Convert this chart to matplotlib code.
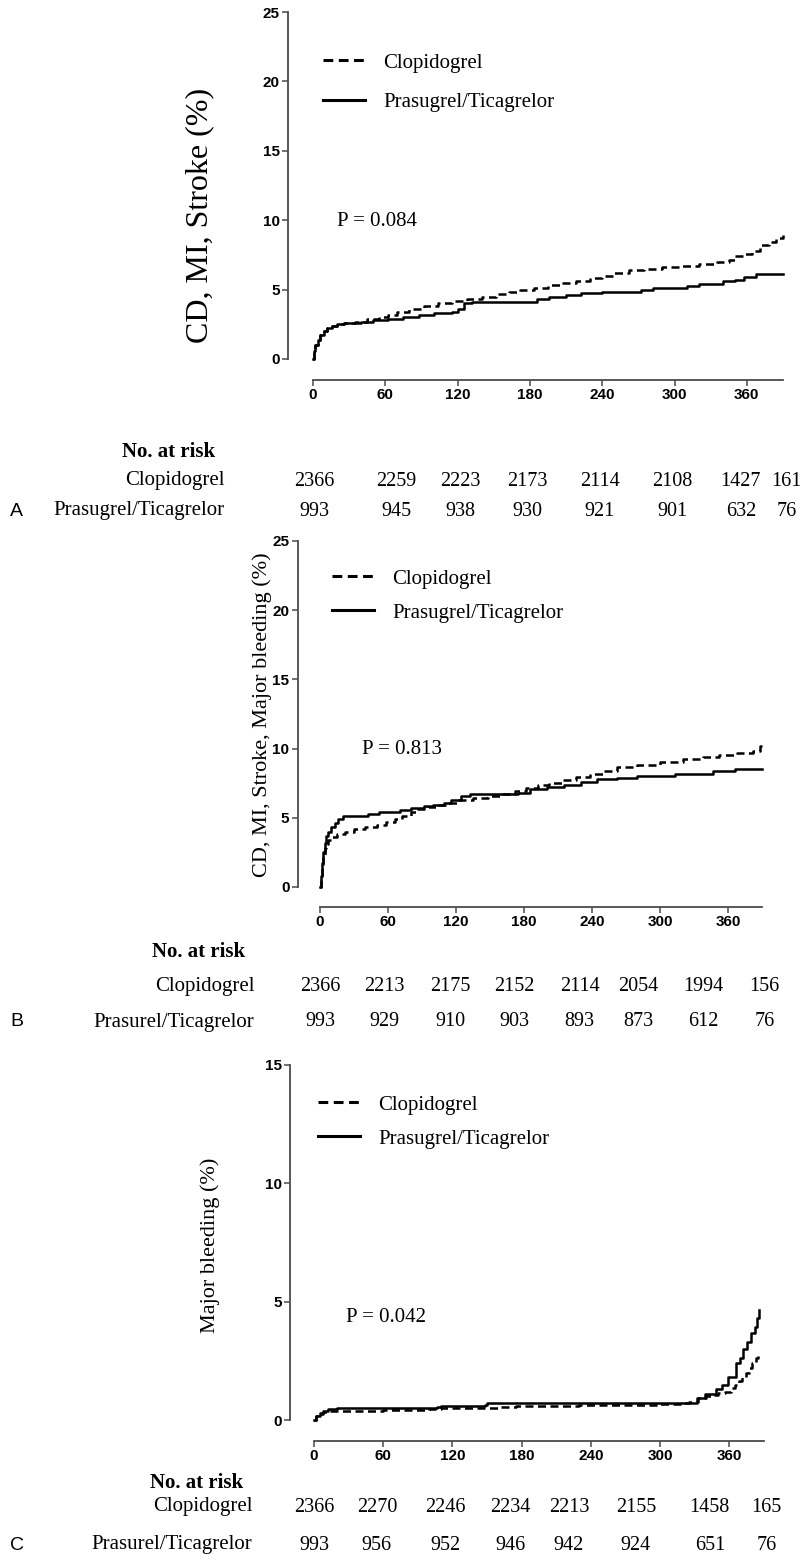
import matplotlib
matplotlib.use("Agg")
from matplotlib import pyplot as plt
from matplotlib.transforms import blended_transform_factory

# Kaplan-Meier style curves: (day, cumulative %)
a_clop_days = [0, 1, 2, 4, 6, 9, 12, 16, 20, 26, 35, 45, 55, 62, 70, 80, 92, 104, 115, 128, 140, 152, 163, 172, 183, 195, 205, 218, 230, 240, 250, 262, 275, 290, 305, 320, 335, 345, 350, 357, 364, 371, 378, 384, 390]
a_clop_vals = [0, 0.6, 1.0, 1.4, 1.7, 2.0, 2.2, 2.4, 2.5, 2.6, 2.7, 2.85, 3.0, 3.2, 3.4, 3.6, 3.8, 4.0, 4.2, 4.3, 4.5, 4.65, 4.8, 5.0, 5.15, 5.3, 5.5, 5.65, 5.8, 6.0, 6.2, 6.4, 6.5, 6.6, 6.7, 6.85, 7.0, 7.1, 7.4, 7.6, 7.8, 8.2, 8.4, 8.7, 8.9]
a_pras_days = [0, 1, 2, 4, 6, 9, 12, 16, 20, 26, 40, 50, 62, 75, 88, 100, 115, 120, 125, 132, 178, 186, 196, 210, 222, 240, 262, 272, 282, 310, 320, 340, 350, 358, 368, 390]
a_pras_vals = [0, 0.6, 1.0, 1.4, 1.7, 2.0, 2.2, 2.4, 2.5, 2.6, 2.7, 2.8, 2.9, 3.05, 3.2, 3.3, 3.4, 3.6, 4.0, 4.1, 4.1, 4.3, 4.5, 4.6, 4.75, 4.8, 4.85, 5.0, 5.1, 5.25, 5.4, 5.6, 5.7, 5.9, 6.1, 6.1]

b_clop_days = [0, 1, 2, 3, 4, 5, 7, 10, 15, 22, 30, 40, 50, 58, 66, 72, 80, 86, 95, 104, 112, 122, 135, 148, 160, 172, 182, 192, 202, 214, 226, 238, 250, 262, 280, 300, 320, 338, 352, 368, 382, 388, 390]
b_clop_vals = [0, 0.8, 1.6, 2.3, 2.8, 3.1, 3.4, 3.6, 3.8, 4.0, 4.2, 4.35, 4.5, 4.7, 4.9, 5.1, 5.4, 5.6, 5.75, 5.9, 6.1, 6.3, 6.45, 6.55, 6.75, 6.95, 7.15, 7.35, 7.55, 7.75, 7.95, 8.15, 8.4, 8.7, 8.85, 9.05, 9.25, 9.4, 9.55, 9.7, 9.85, 10.2, 10.3]
b_pras_days = [0, 1, 2, 3, 4, 5, 7, 10, 13, 16, 20, 42, 52, 71, 80, 92, 100, 109, 116, 124, 132, 175, 185, 200, 215, 230, 244, 262, 280, 313, 347, 366, 390]
b_pras_vals = [0, 0.8, 1.7, 2.5, 3.2, 3.7, 4.0, 4.3, 4.6, 4.9, 5.1, 5.25, 5.4, 5.55, 5.7, 5.85, 5.95, 6.05, 6.3, 6.6, 6.7, 6.8, 7.05, 7.25, 7.4, 7.6, 7.8, 7.85, 8.0, 8.2, 8.4, 8.55, 8.55]

c_clop_days = [0, 2, 5, 8, 12, 60, 100, 110, 160, 175, 230, 300, 318, 325, 333, 340, 345, 350, 356, 361, 365, 368, 371, 374, 377, 380, 383, 385]
c_clop_vals = [0, 0.15, 0.25, 0.35, 0.4, 0.42, 0.45, 0.5, 0.55, 0.6, 0.62, 0.66, 0.7, 0.78, 0.95, 1.0, 1.05, 1.12, 1.2, 1.35, 1.48, 1.65, 1.83, 2.0, 2.18, 2.4, 2.6, 2.7]
c_pras_days = [0, 2, 5, 8, 12, 20, 107, 110, 148, 150, 330, 332, 339, 348, 354, 359, 366, 369, 372, 375, 379, 382, 384, 386]
c_pras_vals = [0, 0.15, 0.3, 0.4, 0.45, 0.52, 0.55, 0.6, 0.62, 0.72, 0.72, 0.95, 1.1, 1.32, 1.48, 1.83, 2.4, 2.6, 3.0, 3.3, 3.66, 3.94, 4.3, 4.65]

# numbers at risk
a_clop_risk = [2366, 2259, 2223, 2173, 2114, 2108, 1427, 161]
a_pras_risk = [993, 945, 938, 930, 921, 901, 632, 76]
b_clop_risk = [2366, 2213, 2175, 2152, 2114, 2054, 1994, 156]
b_pras_risk = [993, 929, 910, 903, 893, 873, 612, 76]
c_clop_risk = [2366, 2270, 2246, 2234, 2213, 2155, 1458, 165]
c_pras_risk = [993, 956, 952, 946, 942, 924, 651, 76]

x_ticks = [0, 60, 120, 180, 240, 300, 360]
p_values = ["P = 0.084", "P = 0.813", "P = 0.042"]
y_labels = ["CD, MI, Stroke (%)", "CD, MI, Stroke, Major bleeding (%)", "Major bleeding (%)"]
pras_names = ["Prasugrel/Ticagrelor", "Prasurel/Ticagrelor", "Prasurel/Ticagrelor"]

W, H = 800, 1562
serif = "Liberation Serif"
sans = "Liberation Sans"
spine_col = "#4a4a4a"

fig = plt.figure(figsize=(W / 100, H / 100), dpi=100)


def fy(px):
    return 1 - px / H


def panel(letter, rect, ymax, yticks, clop, pras, clop_risk, pras_risk, idx, lay):
    x0, x1, ytop, y0 = rect
    ax = fig.add_axes([x0 / W, fy(y0), (x1 - x0) / W, (y0 - ytop) / H])
    ax.step(clop[0], clop[1], where="post", color="black", lw=1.8,
            dashes=(3.2, 1.8), clip_on=False, label="Clopidogrel")
    ax.step(pras[0], pras[1], where="post", color="black", lw=1.8,
            clip_on=False, label="Prasugrel/Ticagrelor")
    ax.set_xlim(0, 390)
    ax.set_ylim(0, ymax)
    ax.set_xticks(x_ticks)
    ax.set_yticks(yticks)
    for s in ["top", "right"]:
        ax.spines[s].set_visible(False)
    ax.spines["left"].set_position(("outward", lay["loff"]))
    ax.spines["bottom"].set_position(("outward", lay["boff"]))
    for s in ["left", "bottom"]:
        ax.spines[s].set_color(spine_col)
        ax.spines[s].set_linewidth(1.3)
    ax.tick_params(direction="out", length=4, width=1.1, color=spine_col, pad=2)
    for lab in ax.get_xticklabels() + ax.get_yticklabels():
        lab.set_fontfamily(sans)
        lab.set_fontweight("bold")
        lab.set_fontsize(11)
    ax.text(lay["p"][0], lay["p"][1], p_values[idx], family=serif, fontsize=15,
            ha="left", va="center")
    leg = ax.legend(loc="upper left", bbox_to_anchor=(lay["leg"][0] / W, fy(lay["leg"][1])),
                    bbox_transform=fig.transFigure, frameon=False,
                    prop={"family": serif, "size": 15}, handlelength=2.0,
                    handletextpad=0.9, labelspacing=lay["leg"][2], borderaxespad=0,
                    borderpad=0)
    for h in leg.get_lines():
        h.set_linewidth(2.2)
    fig.text(lay["ylab"][0] / W, fy(lay["ylab"][1]), y_labels[idx], family=serif,
             fontsize=lay["ylab"][2], rotation=90, ha="center", va="center")

    # number at risk table
    nar_y, r1, r2, lab_x = lay["risk"]
    fig.text(lab_x / W, fy(nar_y), "No. at risk", family=serif, fontsize=15,
             fontweight="bold", ha="right", va="center")
    fig.text(lab_x / W + 0.012, fy(r1), "Clopidogrel", family=serif, fontsize=15,
             ha="right", va="center")
    fig.text(lab_x / W + 0.012, fy(r2), pras_names[idx], family=serif, fontsize=15,
             ha="right", va="center")
    fig.text(10 / W, fy(r2), letter, family=sans, fontsize=14, ha="left", va="center")
    tr = blended_transform_factory(ax.transData, fig.transFigure)
    for d, n1, n2 in zip(lay["cols"], clop_risk, pras_risk):
        ax.text(d, fy(r1), str(n1), transform=tr, family=serif, fontsize=14.5,
                ha="center", va="center", clip_on=False)
        ax.text(d, fy(r2), str(n2), transform=tr, family=serif, fontsize=14.5,
                ha="center", va="center", clip_on=False)
    return ax


panel("A", (313, 783, 12, 359), 25, [0, 5, 10, 15, 20, 25],
      (a_clop_days, a_clop_vals), (a_pras_days, a_pras_vals),
      a_clop_risk, a_pras_risk, 0,
      {"loff": 18, "boff": 15, "p": (20, 9.9), "leg": (323, 53, 0.95),
       "ylab": (200, 215, 23), "risk": (452, 481, 511, 215),
       "cols": [1, 69, 122, 178, 238, 298, 355, 393]})

panel("B", (320, 762, 541, 887), 25, [0, 5, 10, 15, 20, 25],
      (b_clop_days, b_clop_vals), (b_pras_days, b_pras_vals),
      b_clop_risk, b_pras_risk, 1,
      {"loff": 16, "boff": 14.5, "p": (37, 9.9), "leg": (332, 569, 0.7),
       "ylab": (262, 715, 16), "risk": (952, 987, 1022, 245),
       "cols": [0, 56.5, 115, 171.5, 229, 281, 338, 392]})

panel("C", (314, 764, 1065, 1420), 15, [0, 5, 10, 15],
      (c_clop_days, c_clop_vals), (c_pras_days, c_pras_vals),
      c_clop_risk, c_pras_risk, 2,
      {"loff": 17, "boff": 15, "p": (28, 4.35), "leg": (318, 1095, 0.7),
       "ylab": (210, 1245, 16), "risk": (1483, 1507, 1545, 243),
       "cols": [0, 54.5, 113.5, 170, 221, 279, 343, 392]})

fig.savefig("out.png", dpi=100)
